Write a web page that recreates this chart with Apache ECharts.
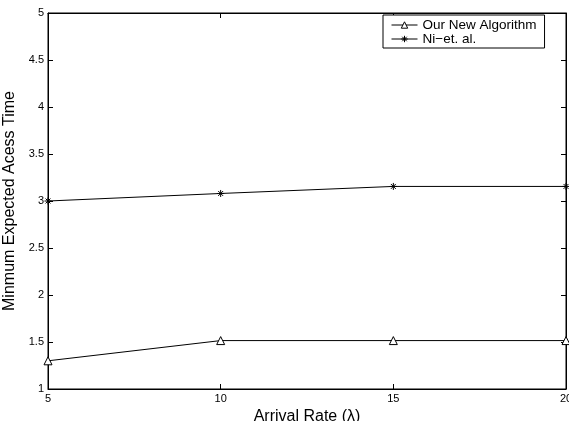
<!DOCTYPE html>
<html>
<head>
<meta charset="utf-8">
<script src="https://cdn.jsdelivr.net/npm/echarts@6/dist/echarts.min.js"></script>
<style>
  html, body { margin: 0; padding: 0; background: #fff; }
  #chart { width: 569px; height: 421px; }
</style>
</head>
<body>
<div id="chart"></div>
<script>
const arrivalRates = [5, 10, 15, 20];
const ourNewAlgorithm = [1.3, 1.515, 1.515, 1.515];
const niEtAl = [3.0, 3.08, 3.155, 3.155];

const seriesNames = ["Our New Algorithm", "Ni\u2212et. al."];

const font = "'Liberation Sans', Arial, Helvetica, sans-serif";
const asterisk = "path://M0,5L10,5M5,0L5,10M1.5,1.5L8.5,8.5M8.5,1.5L1.5,8.5";

const chart = echarts.init(document.getElementById("chart"), null, { renderer: "canvas" });

const pairs = (ys) => arrivalRates.map((x, i) => [x, ys[i]]);

chart.setOption({
  animation: false,
  backgroundColor: "#fff",
  grid: {
    left: 48,
    right: 3,
    top: 13,
    bottom: 32,
    outerBoundsMode: "none",
    containLabel: false,
    show: true,
    borderColor: "#000",
    borderWidth: 1,
  },
  legend: {
    orient: "vertical",
    left: 383,
    top: 15,
    width: 163,
    padding: [3, 8, 2, 8],
    itemGap: 0,
    itemWidth: 26,
    itemHeight: 8,
    borderColor: "#000",
    borderWidth: 1,
    backgroundColor: "#fff",
    lineStyle: { width: 1 },
    itemStyle: { borderWidth: 1 },
    textStyle: { fontFamily: font, fontSize: 13.5, color: "#000" },
    data: seriesNames,
  },
  xAxis: [
    {
      type: "value",
      min: 5,
      max: 20,
      interval: 5,
      name: "Arrival Rate (\u03bb)",
      nameLocation: "middle",
      nameGap: 14,
      nameTextStyle: { fontFamily: font, fontSize: 16, color: "#000" },
      axisLine: { show: true, lineStyle: { color: "#000", width: 1 } },
      axisTick: { show: true, inside: true, length: 5, lineStyle: { color: "#000" } },
      axisLabel: { fontFamily: font, fontSize: 11, color: "#000", margin: 4 },
      splitLine: { show: false },
    },
    {
      type: "value",
      position: "top",
      min: 5,
      max: 20,
      interval: 5,
      axisLine: { show: true, lineStyle: { color: "#000", width: 1 } },
      axisTick: { show: true, inside: true, length: 5, lineStyle: { color: "#000" } },
      axisLabel: { show: false },
      splitLine: { show: false },
    },
  ],
  yAxis: [
    {
      type: "value",
      min: 1,
      max: 5,
      interval: 0.5,
      name: "Minmum Expected Acess Time",
      nameLocation: "middle",
      nameGap: 19,
      nameTextStyle: { fontFamily: font, fontSize: 16, color: "#000" },
      axisLine: { show: true, lineStyle: { color: "#000", width: 1 } },
      axisTick: { show: true, inside: true, length: 5, lineStyle: { color: "#000" } },
      axisLabel: { fontFamily: font, fontSize: 11, color: "#000", margin: 4 },
      splitLine: { show: false },
    },
    {
      type: "value",
      position: "right",
      min: 1,
      max: 5,
      interval: 0.5,
      axisLine: { show: true, lineStyle: { color: "#000", width: 1 } },
      axisTick: { show: true, inside: true, length: 5, lineStyle: { color: "#000" } },
      axisLabel: { show: false },
      splitLine: { show: false },
    },
  ],
  series: [
    {
      name: seriesNames[0],
      type: "line",
      data: pairs(ourNewAlgorithm),
      symbol: "triangle",
      symbolSize: 8,
      showAllSymbol: true,
      lineStyle: { color: "#000", width: 1 },
      itemStyle: { color: "#fff", borderColor: "#000", borderWidth: 1 },
      z: 3,
    },
    {
      name: seriesNames[1],
      type: "line",
      data: pairs(niEtAl),
      symbol: asterisk,
      symbolSize: 7,
      showAllSymbol: true,
      lineStyle: { color: "#000", width: 1 },
      itemStyle: { color: "#000", borderColor: "#000", borderWidth: 1 },
      z: 3,
    },
  ],
});
</script>
</body>
</html>
